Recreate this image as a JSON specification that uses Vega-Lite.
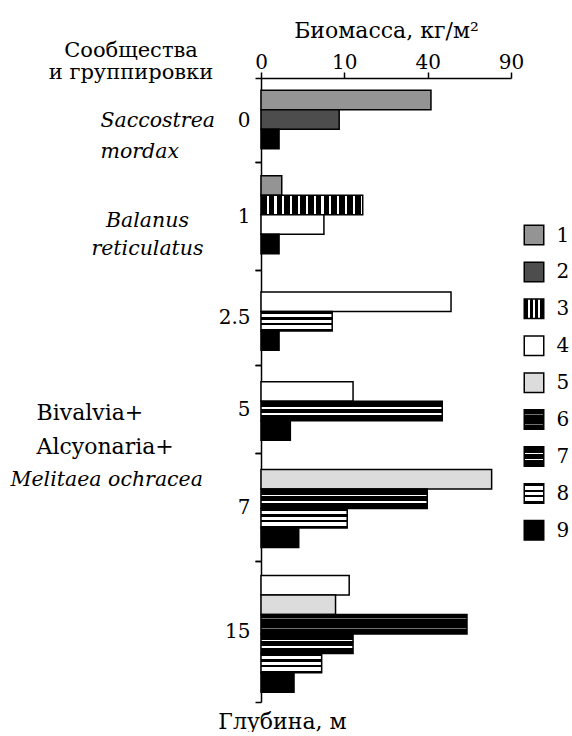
{
  "$schema": "https://vega.github.io/schema/vega-lite/v6.json",
  "background": "white",
  "padding": {"left": 10, "top": 19, "right": 0, "bottom": 0},
  "title": {"text": ["Сообщества", "и группировки"], "anchor": "start", "frame": "bounds", "align": "center", "dx": 121, "dy": 64, "fontSize": 21, "fontWeight": "normal", "font": "DejaVu Serif", "lineHeight": 22, "offset": 0, "color": "#000"},
  "config": {
    "font": "DejaVu Serif",
    "view": {"stroke": null},
    "axis": {"labelFontSize": 20, "titleFontSize": 22, "titleFontWeight": "normal", "labelColor": "#000", "titleColor": "#000", "domainColor": "#000", "tickColor": "#000", "domainWidth": 1.5, "tickWidth": 1.5, "tickSize": 6, "labelPadding": 5, "grid": false}
  },
  "datasets": {
    "bars": [
      {"depth": "0", "group": "1", "biomass": 41.6},
      {"depth": "0", "group": "2", "biomass": 8.8},
      {"depth": "0", "group": "9", "biomass": 0.47},
      {"depth": "1", "group": "1", "biomass": 0.62},
      {"depth": "1", "group": "3", "biomass": 14.9},
      {"depth": "1", "group": "4", "biomass": 5.7},
      {"depth": "1", "group": "9", "biomass": 0.47},
      {"depth": "2.5", "group": "4", "biomass": 52},
      {"depth": "2.5", "group": "8", "biomass": 7.3},
      {"depth": "2.5", "group": "9", "biomass": 0.47},
      {"depth": "5", "group": "4", "biomass": 12.2},
      {"depth": "5", "group": "7", "biomass": 47.3},
      {"depth": "5", "group": "9", "biomass": 1.24},
      {"depth": "7", "group": "5", "biomass": 76.6},
      {"depth": "7", "group": "7", "biomass": 39.8},
      {"depth": "7", "group": "8", "biomass": 10.7},
      {"depth": "7", "group": "9", "biomass": 2.05},
      {"depth": "15", "group": "4", "biomass": 11.2},
      {"depth": "15", "group": "5", "biomass": 8.0},
      {"depth": "15", "group": "6", "biomass": 61.1},
      {"depth": "15", "group": "7", "biomass": 12.2},
      {"depth": "15", "group": "8", "biomass": 5.3},
      {"depth": "15", "group": "9", "biomass": 1.57}
    ],
    "legend": [
      {"group": 1}, {"group": 2}, {"group": 3}, {"group": 4}, {"group": 5},
      {"group": 6}, {"group": 7}, {"group": 8}, {"group": 9}
    ]
  },
  "spacing": -4,
  "resolve": {"scale": {"x": "independent", "y": "independent"}},
  "hconcat": [
    {
      "spacing": 0,
      "bounds": "flush",
      "resolve": {"scale": {"y": "independent", "yOffset": "independent"}},
      "vconcat": [
        {
          "width": 250, "height": 84,
          "data": {"name": "bars"},
          "transform": [{"filter": "datum.depth === '0'"}],
          "encoding": {
            "y": {"field": "depth", "type": "nominal", "scale": {"paddingInner": 0, "paddingOuter": 0},
                  "axis": {"tickBand": "extent", "title": ["Saccostrea", "mordax"], "titleAngle": 0, "titleAlign": "left", "titleBaseline": "middle", "titleX": -161, "titleY": 42, "titleLineHeight": 31, "titleFontStyle": "italic", "titleFontSize": 20.5}},
            "yOffset": {"field": "group", "type": "nominal", "scale": {"paddingInner": 0, "paddingOuter": 0.65, "align": 0.48}},
            "x": {"field": "biomass", "type": "quantitative", "scale": {"type": "sqrt", "domain": [0, 90], "nice": false},
                  "axis": {"orient": "top", "values": [0, 10, 40, 90], "title": "Биомасса, кг/м²", "titlePadding": 10, "labelPadding": 4, "labelBaseline": "alphabetic", "labelFlush": false}}
          },
          "layer": [
            {"transform": [{"filter": "datum.group === '1'"}], "mark": {"type": "bar", "fill": "#949494", "stroke": "#000", "strokeWidth": 1.5}},
            {"transform": [{"filter": "datum.group === '2'"}], "mark": {"type": "bar", "fill": "#4d4d4d", "stroke": "#000", "strokeWidth": 1.5}},
            {"transform": [{"filter": "datum.group === '9'"}], "mark": {"type": "bar", "fill": "#000", "stroke": "#000", "strokeWidth": 1.5}}
          ]
        },
        {
          "width": 250, "height": 108,
          "data": {"name": "bars"},
          "transform": [{"filter": "datum.depth === '1'"}],
          "encoding": {
            "y": {"field": "depth", "type": "nominal", "scale": {"paddingInner": 0, "paddingOuter": 0},
                  "axis": {"tickBand": "extent", "title": ["Balanus", "reticulatus"], "titleAngle": 0, "titleAlign": "center", "titleBaseline": "middle", "titleX": -114, "titleY": 58, "titleLineHeight": 28, "titleFontStyle": "italic", "titleFontSize": 20.5}},
            "yOffset": {"field": "group", "type": "nominal", "scale": {"paddingInner": 0, "paddingOuter": 0.77, "align": 0.46}},
            "x": {"field": "biomass", "type": "quantitative", "scale": {"type": "sqrt", "domain": [0, 90], "nice": false}, "axis": null}
          },
          "layer": [
            {"transform": [{"filter": "datum.group === '1'"}], "mark": {"type": "bar", "fill": "#949494", "stroke": "#000", "strokeWidth": 1.5}},
            {"transform": [{"filter": "datum.group === '3'"}], "mark": {"type": "bar", "stroke": "#000", "strokeWidth": 1.5,
              "fill": {"gradient": "linear", "x1": 0, "y1": 0, "x2": 1, "y2": 0, "stops": [
                {"offset": 0, "color": "#000"}, {"offset": 0.0554, "color": "#000"}, {"offset": 0.0554, "color": "#fff"}, {"offset": 0.0769, "color": "#fff"},
                {"offset": 0.0769, "color": "#000"}, {"offset": 0.1323, "color": "#000"}, {"offset": 0.1323, "color": "#fff"}, {"offset": 0.1538, "color": "#fff"},
                {"offset": 0.1538, "color": "#000"}, {"offset": 0.2092, "color": "#000"}, {"offset": 0.2092, "color": "#fff"}, {"offset": 0.2308, "color": "#fff"},
                {"offset": 0.2308, "color": "#000"}, {"offset": 0.2862, "color": "#000"}, {"offset": 0.2862, "color": "#fff"}, {"offset": 0.3077, "color": "#fff"},
                {"offset": 0.3077, "color": "#000"}, {"offset": 0.3631, "color": "#000"}, {"offset": 0.3631, "color": "#fff"}, {"offset": 0.3846, "color": "#fff"},
                {"offset": 0.3846, "color": "#000"}, {"offset": 0.44, "color": "#000"}, {"offset": 0.44, "color": "#fff"}, {"offset": 0.4615, "color": "#fff"},
                {"offset": 0.4615, "color": "#000"}, {"offset": 0.5169, "color": "#000"}, {"offset": 0.5169, "color": "#fff"}, {"offset": 0.5385, "color": "#fff"},
                {"offset": 0.5385, "color": "#000"}, {"offset": 0.5938, "color": "#000"}, {"offset": 0.5938, "color": "#fff"}, {"offset": 0.6154, "color": "#fff"},
                {"offset": 0.6154, "color": "#000"}, {"offset": 0.6708, "color": "#000"}, {"offset": 0.6708, "color": "#fff"}, {"offset": 0.6923, "color": "#fff"},
                {"offset": 0.6923, "color": "#000"}, {"offset": 0.7477, "color": "#000"}, {"offset": 0.7477, "color": "#fff"}, {"offset": 0.7692, "color": "#fff"},
                {"offset": 0.7692, "color": "#000"}, {"offset": 0.8246, "color": "#000"}, {"offset": 0.8246, "color": "#fff"}, {"offset": 0.8462, "color": "#fff"},
                {"offset": 0.8462, "color": "#000"}, {"offset": 0.9015, "color": "#000"}, {"offset": 0.9015, "color": "#fff"}, {"offset": 0.9231, "color": "#fff"},
                {"offset": 0.9231, "color": "#000"}, {"offset": 0.9785, "color": "#000"}, {"offset": 0.9785, "color": "#fff"}, {"offset": 1, "color": "#fff"}
              ]}}},
            {"transform": [{"filter": "datum.group === '4'"}], "mark": {"type": "bar", "fill": "#fff", "stroke": "#000", "strokeWidth": 1.5}},
            {"transform": [{"filter": "datum.group === '9'"}], "mark": {"type": "bar", "fill": "#000", "stroke": "#000", "strokeWidth": 1.5}}
          ]
        },
        {
          "width": 250, "height": 95,
          "data": {"name": "bars"},
          "transform": [{"filter": "datum.depth === '2.5'"}],
          "encoding": {
            "y": {"field": "depth", "type": "nominal", "scale": {"paddingInner": 0, "paddingOuter": 0},
                  "axis": {"tickBand": "extent", "title": null}},
            "yOffset": {"field": "group", "type": "nominal", "scale": {"paddingInner": 0, "paddingOuter": 0.94, "align": 0.6}},
            "x": {"field": "biomass", "type": "quantitative", "scale": {"type": "sqrt", "domain": [0, 90], "nice": false}, "axis": null}
          },
          "layer": [
            {"transform": [{"filter": "datum.group === '4'"}], "mark": {"type": "bar", "fill": "#fff", "stroke": "#000", "strokeWidth": 1.5}},
            {"transform": [{"filter": "datum.group === '8'"}], "mark": {"type": "bar", "stroke": "#000", "strokeWidth": 1.5,
              "fill": {"gradient": "linear", "x1": 0, "y1": 0, "x2": 0, "y2": 1, "stops": [
                {"offset": 0, "color": "#000"}, {"offset": 0.12, "color": "#000"}, {"offset": 0.12, "color": "#fff"}, {"offset": 0.3, "color": "#fff"},
                {"offset": 0.3, "color": "#000"}, {"offset": 0.42, "color": "#000"}, {"offset": 0.42, "color": "#fff"}, {"offset": 0.58, "color": "#fff"},
                {"offset": 0.58, "color": "#000"}, {"offset": 0.7, "color": "#000"}, {"offset": 0.7, "color": "#fff"}, {"offset": 0.88, "color": "#fff"},
                {"offset": 0.88, "color": "#000"}, {"offset": 1, "color": "#000"}
              ]}}},
            {"transform": [{"filter": "datum.group === '9'"}], "mark": {"type": "bar", "fill": "#000", "stroke": "#000", "strokeWidth": 1.5}}
          ]
        },
        {
          "width": 250, "height": 88,
          "data": {"name": "bars"},
          "transform": [{"filter": "datum.depth === '5'"}],
          "encoding": {
            "y": {"field": "depth", "type": "nominal", "scale": {"paddingInner": 0, "paddingOuter": 0},
                  "axis": {"tickBand": "extent", "title": ["Bivalvia+", "Alcyonaria+"], "titleAngle": 0, "titleAlign": "left", "titleBaseline": "middle", "titleX": -225, "titleY": 47, "titleLineHeight": 34}},
            "yOffset": {"field": "group", "type": "nominal", "scale": {"paddingInner": 0, "paddingOuter": 0.76, "align": 0.57}},
            "x": {"field": "biomass", "type": "quantitative", "scale": {"type": "sqrt", "domain": [0, 90], "nice": false}, "axis": null}
          },
          "layer": [
            {"transform": [{"filter": "datum.group === '4'"}], "mark": {"type": "bar", "fill": "#fff", "stroke": "#000", "strokeWidth": 1.5}},
            {"transform": [{"filter": "datum.group === '7'"}], "mark": {"type": "bar", "stroke": "#000", "strokeWidth": 1.5,
              "fill": {"gradient": "linear", "x1": 0, "y1": 0, "x2": 0, "y2": 1, "stops": [
                {"offset": 0, "color": "#000"}, {"offset": 0.3, "color": "#000"}, {"offset": 0.3, "color": "#fff"}, {"offset": 0.38, "color": "#fff"},
                {"offset": 0.38, "color": "#000"}, {"offset": 0.62, "color": "#000"}, {"offset": 0.62, "color": "#fff"}, {"offset": 0.7, "color": "#fff"},
                {"offset": 0.7, "color": "#000"}, {"offset": 1, "color": "#000"}
              ]}}},
            {"transform": [{"filter": "datum.group === '9'"}], "mark": {"type": "bar", "fill": "#000", "stroke": "#000", "strokeWidth": 1.5}}
          ]
        },
        {
          "width": 250, "height": 108,
          "data": {"name": "bars"},
          "transform": [{"filter": "datum.depth === '7'"}],
          "encoding": {
            "y": {"field": "depth", "type": "nominal", "scale": {"paddingInner": 0, "paddingOuter": 0},
                  "axis": {"tickBand": "extent", "title": "Melitaea ochracea", "titleAngle": 0, "titleAlign": "left", "titleBaseline": "middle", "titleX": -251, "titleY": 26, "titleFontStyle": "italic", "titleFontSize": 20.5}},
            "yOffset": {"field": "group", "type": "nominal", "scale": {"paddingInner": 0, "paddingOuter": 0.77, "align": 0.55}},
            "x": {"field": "biomass", "type": "quantitative", "scale": {"type": "sqrt", "domain": [0, 90], "nice": false}, "axis": null}
          },
          "layer": [
            {"transform": [{"filter": "datum.group === '5'"}], "mark": {"type": "bar", "fill": "#dcdcdc", "stroke": "#000", "strokeWidth": 1.5}},
            {"transform": [{"filter": "datum.group === '7'"}], "mark": {"type": "bar", "stroke": "#000", "strokeWidth": 1.5,
              "fill": {"gradient": "linear", "x1": 0, "y1": 0, "x2": 0, "y2": 1, "stops": [
                {"offset": 0, "color": "#000"}, {"offset": 0.3, "color": "#000"}, {"offset": 0.3, "color": "#fff"}, {"offset": 0.38, "color": "#fff"},
                {"offset": 0.38, "color": "#000"}, {"offset": 0.62, "color": "#000"}, {"offset": 0.62, "color": "#fff"}, {"offset": 0.7, "color": "#fff"},
                {"offset": 0.7, "color": "#000"}, {"offset": 1, "color": "#000"}
              ]}}},
            {"transform": [{"filter": "datum.group === '8'"}], "mark": {"type": "bar", "stroke": "#000", "strokeWidth": 1.5,
              "fill": {"gradient": "linear", "x1": 0, "y1": 0, "x2": 0, "y2": 1, "stops": [
                {"offset": 0, "color": "#000"}, {"offset": 0.12, "color": "#000"}, {"offset": 0.12, "color": "#fff"}, {"offset": 0.3, "color": "#fff"},
                {"offset": 0.3, "color": "#000"}, {"offset": 0.42, "color": "#000"}, {"offset": 0.42, "color": "#fff"}, {"offset": 0.58, "color": "#fff"},
                {"offset": 0.58, "color": "#000"}, {"offset": 0.7, "color": "#000"}, {"offset": 0.7, "color": "#fff"}, {"offset": 0.88, "color": "#fff"},
                {"offset": 0.88, "color": "#000"}, {"offset": 1, "color": "#000"}
              ]}}},
            {"transform": [{"filter": "datum.group === '9'"}], "mark": {"type": "bar", "fill": "#000", "stroke": "#000", "strokeWidth": 1.5}}
          ]
        },
        {
          "width": 250, "height": 141,
          "data": {"name": "bars"},
          "transform": [{"filter": "datum.depth === '15'"}],
          "encoding": {
            "y": {"field": "depth", "type": "nominal", "scale": {"paddingInner": 0, "paddingOuter": 0},
                  "axis": {"tickBand": "extent", "title": "Глубина, м", "titleAngle": 0, "titleAlign": "center", "titleBaseline": "middle", "titleX": 21, "titleY": 160}},
            "yOffset": {"field": "group", "type": "nominal", "scale": {"paddingInner": 0, "paddingOuter": 0.62, "align": 0.6}},
            "x": {"field": "biomass", "type": "quantitative", "scale": {"type": "sqrt", "domain": [0, 90], "nice": false}, "axis": null}
          },
          "layer": [
            {"transform": [{"filter": "datum.group === '4'"}], "mark": {"type": "bar", "fill": "#fff", "stroke": "#000", "strokeWidth": 1.5}},
            {"transform": [{"filter": "datum.group === '5'"}], "mark": {"type": "bar", "fill": "#dcdcdc", "stroke": "#000", "strokeWidth": 1.5}},
            {"transform": [{"filter": "datum.group === '6'"}], "mark": {"type": "bar", "stroke": "#000", "strokeWidth": 1.5,
              "fill": {"gradient": "linear", "x1": 0, "y1": 0, "x2": 0, "y2": 1, "stops": [
                {"offset": 0, "color": "#000"}, {"offset": 0.2, "color": "#000"}, {"offset": 0.2, "color": "#707070"}, {"offset": 0.25, "color": "#707070"},
                {"offset": 0.25, "color": "#000"}, {"offset": 0.72, "color": "#000"}, {"offset": 0.72, "color": "#707070"}, {"offset": 0.77, "color": "#707070"},
                {"offset": 0.77, "color": "#000"}, {"offset": 1, "color": "#000"}
              ]}}},
            {"transform": [{"filter": "datum.group === '7'"}], "mark": {"type": "bar", "stroke": "#000", "strokeWidth": 1.5,
              "fill": {"gradient": "linear", "x1": 0, "y1": 0, "x2": 0, "y2": 1, "stops": [
                {"offset": 0, "color": "#000"}, {"offset": 0.3, "color": "#000"}, {"offset": 0.3, "color": "#fff"}, {"offset": 0.38, "color": "#fff"},
                {"offset": 0.38, "color": "#000"}, {"offset": 0.62, "color": "#000"}, {"offset": 0.62, "color": "#fff"}, {"offset": 0.7, "color": "#fff"},
                {"offset": 0.7, "color": "#000"}, {"offset": 1, "color": "#000"}
              ]}}},
            {"transform": [{"filter": "datum.group === '8'"}], "mark": {"type": "bar", "stroke": "#000", "strokeWidth": 1.5,
              "fill": {"gradient": "linear", "x1": 0, "y1": 0, "x2": 0, "y2": 1, "stops": [
                {"offset": 0, "color": "#000"}, {"offset": 0.12, "color": "#000"}, {"offset": 0.12, "color": "#fff"}, {"offset": 0.3, "color": "#fff"},
                {"offset": 0.3, "color": "#000"}, {"offset": 0.42, "color": "#000"}, {"offset": 0.42, "color": "#fff"}, {"offset": 0.58, "color": "#fff"},
                {"offset": 0.58, "color": "#000"}, {"offset": 0.7, "color": "#000"}, {"offset": 0.7, "color": "#fff"}, {"offset": 0.88, "color": "#fff"},
                {"offset": 0.88, "color": "#000"}, {"offset": 1, "color": "#000"}
              ]}}},
            {"transform": [{"filter": "datum.group === '9'"}], "mark": {"type": "bar", "fill": "#000", "stroke": "#000", "strokeWidth": 1.5}}
          ]
        }
      ]
    },
    {
      "width": 20, "height": 609,
      "data": {"name": "legend"},
      "encoding": {
        "y": {"field": "group", "type": "quantitative", "scale": {"domain": [-3.255, 13.245], "reverse": true, "nice": false, "zero": false},
              "axis": {"orient": "right", "values": [1, 2, 3, 4, 5, 6, 7, 8, 9], "format": "d", "domain": false, "ticks": false, "labelPadding": 12, "title": null}},
        "x": {"datum": 0.5, "type": "quantitative", "scale": {"domain": [0, 1], "nice": false}, "axis": null}
      },
      "layer": [
        {"transform": [{"filter": "datum.group === 1"}], "mark": {"type": "square", "size": 380, "opacity": 1, "fill": "#949494", "stroke": "#000", "strokeWidth": 1.5}},
        {"transform": [{"filter": "datum.group === 2"}], "mark": {"type": "square", "size": 380, "opacity": 1, "fill": "#4d4d4d", "stroke": "#000", "strokeWidth": 1.5}},
        {"transform": [{"filter": "datum.group === 3"}], "mark": {"type": "square", "size": 380, "opacity": 1, "stroke": "#000", "strokeWidth": 1.5,
          "fill": {"gradient": "linear", "x1": 0, "y1": 0, "x2": 1, "y2": 0, "stops": [
            {"offset": 0, "color": "#000"}, {"offset": 0.2, "color": "#000"}, {"offset": 0.2, "color": "#fff"}, {"offset": 0.32, "color": "#fff"},
            {"offset": 0.32, "color": "#000"}, {"offset": 0.44, "color": "#000"}, {"offset": 0.44, "color": "#fff"}, {"offset": 0.56, "color": "#fff"},
            {"offset": 0.56, "color": "#000"}, {"offset": 0.68, "color": "#000"}, {"offset": 0.68, "color": "#fff"}, {"offset": 0.8, "color": "#fff"},
            {"offset": 0.8, "color": "#000"}, {"offset": 1, "color": "#000"}
          ]}}},
        {"transform": [{"filter": "datum.group === 4"}], "mark": {"type": "square", "size": 380, "opacity": 1, "fill": "#fff", "stroke": "#000", "strokeWidth": 1.5}},
        {"transform": [{"filter": "datum.group === 5"}], "mark": {"type": "square", "size": 380, "opacity": 1, "fill": "#dcdcdc", "stroke": "#000", "strokeWidth": 1.5}},
        {"transform": [{"filter": "datum.group === 6"}], "mark": {"type": "square", "size": 380, "opacity": 1, "stroke": "#000", "strokeWidth": 1.5,
          "fill": {"gradient": "linear", "x1": 0, "y1": 0, "x2": 0, "y2": 1, "stops": [
            {"offset": 0, "color": "#000"}, {"offset": 0.2, "color": "#000"}, {"offset": 0.2, "color": "#707070"}, {"offset": 0.25, "color": "#707070"},
            {"offset": 0.25, "color": "#000"}, {"offset": 0.72, "color": "#000"}, {"offset": 0.72, "color": "#707070"}, {"offset": 0.77, "color": "#707070"},
            {"offset": 0.77, "color": "#000"}, {"offset": 1, "color": "#000"}
          ]}}},
        {"transform": [{"filter": "datum.group === 7"}], "mark": {"type": "square", "size": 380, "opacity": 1, "stroke": "#000", "strokeWidth": 1.5,
          "fill": {"gradient": "linear", "x1": 0, "y1": 0, "x2": 0, "y2": 1, "stops": [
            {"offset": 0, "color": "#000"}, {"offset": 0.3, "color": "#000"}, {"offset": 0.3, "color": "#fff"}, {"offset": 0.38, "color": "#fff"},
            {"offset": 0.38, "color": "#000"}, {"offset": 0.62, "color": "#000"}, {"offset": 0.62, "color": "#fff"}, {"offset": 0.7, "color": "#fff"},
            {"offset": 0.7, "color": "#000"}, {"offset": 1, "color": "#000"}
          ]}}},
        {"transform": [{"filter": "datum.group === 8"}], "mark": {"type": "square", "size": 380, "opacity": 1, "stroke": "#000", "strokeWidth": 1.5,
          "fill": {"gradient": "linear", "x1": 0, "y1": 0, "x2": 0, "y2": 1, "stops": [
            {"offset": 0, "color": "#000"}, {"offset": 0.12, "color": "#000"}, {"offset": 0.12, "color": "#fff"}, {"offset": 0.3, "color": "#fff"},
            {"offset": 0.3, "color": "#000"}, {"offset": 0.42, "color": "#000"}, {"offset": 0.42, "color": "#fff"}, {"offset": 0.58, "color": "#fff"},
            {"offset": 0.58, "color": "#000"}, {"offset": 0.7, "color": "#000"}, {"offset": 0.7, "color": "#fff"}, {"offset": 0.88, "color": "#fff"},
            {"offset": 0.88, "color": "#000"}, {"offset": 1, "color": "#000"}
          ]}}},
        {"transform": [{"filter": "datum.group === 9"}], "mark": {"type": "square", "size": 380, "opacity": 1, "fill": "#000", "stroke": "#000", "strokeWidth": 1.5}}
      ]
    }
  ]
}
